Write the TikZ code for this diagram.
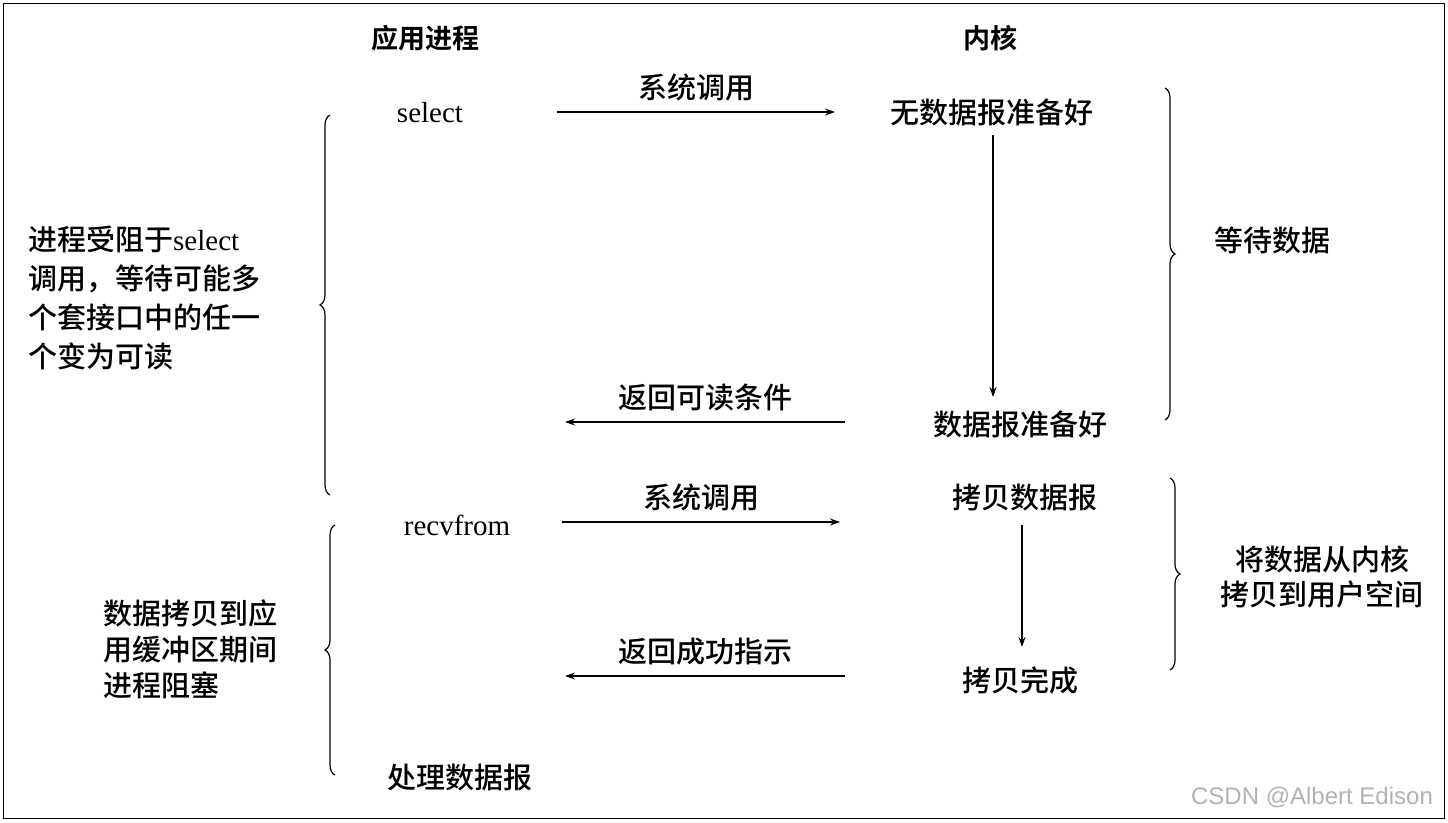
\documentclass[tikz,border=0pt]{standalone}
\usepackage{fontspec}
\setmainfont{Liberation Serif}
\newfontfamily\cjk[BoldFont={Noto Sans CJK SC Bold}]{Noto Sans CJK SC Medium}
\usetikzlibrary{decorations.pathreplacing,arrows.meta}
\begin{document}
\begin{tikzpicture}[x=1pt,y=-1pt,
  lbl/.style={font=\cjk\fontsize{29}{32}\selectfont,inner sep=0pt},
  en/.style={font=\fontsize{29}{32}\selectfont,inner sep=0pt},
  arr/.style={-{Stealth[length=10pt,width=7pt]},line width=1.2pt},
  br/.style={decorate,decoration={brace,amplitude=10pt},line width=1.2pt}]
\useasboundingbox (0,0) rectangle (1448,822);
\draw[line width=1pt] (3,3) rectangle (1444,818);
\node[lbl,font=\cjk\bfseries\fontsize{27}{30}\selectfont] (hApp) at (425,38) {应用进程};
\node[lbl,font=\cjk\bfseries\fontsize{27}{30}\selectfont] (hKer) at (990,38) {内核};
\node[en] (sel) at (430,113) {select};
\node[lbl] (k1) at (992,112) {无数据报准备好};
\coordinate (a1s) at (557,112); \coordinate (a1e) at (835,112);
\draw[arr] (a1s) -- node[lbl,above=10pt]{系统调用} (a1e);
\coordinate (v1s) at (993,135); \coordinate (v1e) at (993,397);
\draw[arr] (v1s) -- (v1e);
\node[lbl] (k2) at (1020,424) {数据报准备好};
\coordinate (a2s) at (845,422); \coordinate (a2e) at (565,422);
\draw[arr] (a2s) -- node[lbl,above=10pt]{返回可读条件} (a2e);
\node[en] (rcv) at (457,525) {recvfrom};
\coordinate (a3s) at (562,522); \coordinate (a3e) at (840,522);
\draw[arr] (a3s) -- node[lbl,above=10pt]{系统调用} (a3e);
\node[lbl] (k3) at (1025,498) {拷贝数据报};
\coordinate (v2s) at (1022,525); \coordinate (v2e) at (1022,647);
\draw[arr] (v2s) -- (v2e);
\node[lbl] (k4) at (1020,680) {拷贝完成};
\coordinate (a4s) at (845,676); \coordinate (a4e) at (565,676);
\draw[arr] (a4s) -- node[lbl,above=10pt]{返回成功指示} (a4e);
\node[lbl] (proc) at (460,778) {处理数据报};
\draw[br] (330,495) -- (330,115);
\draw[br] (335,775) -- (335,525);
\draw[br] (1165,88) -- (1165,420);
\draw[br] (1170,478) -- (1170,670);
\node[lbl,align=left,anchor=north west,font=\cjk\fontsize{29}{39}\selectfont] (t1) at (28,226) {进程受阻于\fontspec{Liberation Serif}select\\调用，等待可能多\\个套接口中的任一\\个变为可读};
\node[lbl,align=left,anchor=north west,font=\cjk\fontsize{29}{36}\selectfont] (t2) at (103,600) {数据拷贝到应\\用缓冲区期间\\进程阻塞};
\node[lbl] (t3) at (1272,240) {等待数据};
\node[lbl,align=center,font=\cjk\fontsize{29}{35}\selectfont] (t4) at (1322,577) {将数据从内核\\拷贝到用户空间};
\node[inner sep=0pt,text=gray!60,font=\fontspec{Liberation Sans}\fontsize{24}{26}\selectfont] (wm) at (1312,797) {CSDN @Albert Edison};
\end{tikzpicture}
\end{document}
